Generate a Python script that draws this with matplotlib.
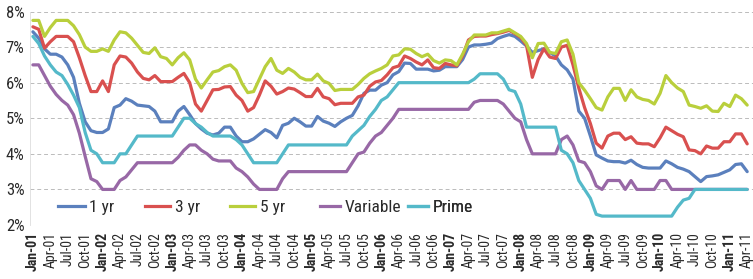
import matplotlib
matplotlib.use("Agg")
import matplotlib.pyplot as plt
from matplotlib.lines import Line2D

# ---- data (monthly, Jan-01 .. Apr-11) ----
yr1 = [
    7.43, 7.25, 6.95, 6.8, 6.8, 6.72, 6.5, 6.15, 5.42, 4.9,
    4.65, 4.6, 4.6, 4.7, 5.3, 5.37, 5.55, 5.48, 5.37, 5.35,
    5.33, 5.2, 4.9, 4.9, 4.9, 5.2, 5.33, 5.1, 4.85, 4.7,
    4.58, 4.53, 4.58, 4.75, 4.75, 4.5, 4.34, 4.34, 4.42, 4.55,
    4.68, 4.6, 4.45, 4.8, 4.86, 5.0, 4.9, 4.78, 4.78, 5.05,
    4.92, 4.86, 4.77, 4.9, 5.0, 5.08, 5.35, 5.7, 5.79, 5.79,
    5.93, 6.0, 6.22, 6.31, 6.55, 6.54, 6.38, 6.38, 6.38, 6.33,
    6.35, 6.45, 6.45, 6.45, 6.65, 7.0, 7.06, 7.06, 7.08, 7.11,
    7.24, 7.3, 7.35, 7.3, 7.17, 7.03, 6.85, 6.9, 6.95, 6.85,
    6.75, 6.5, 6.36, 6.1, 5.2, 5.0, 4.5, 3.97, 3.88, 3.8,
    3.78, 3.78, 3.74, 3.82, 3.7, 3.62, 3.6, 3.6, 3.6, 3.8,
    3.72, 3.62, 3.57, 3.5, 3.36, 3.22, 3.36, 3.38, 3.41, 3.48,
    3.55, 3.7, 3.72, 3.5]

yr3 = [
    7.57, 7.5, 6.97, 7.15, 7.3, 7.3, 7.3, 7.15, 6.7, 6.2,
    5.75, 5.75, 6.05, 5.75, 6.5, 6.75, 6.72, 6.55, 6.3, 6.12,
    6.08, 6.2, 6.03, 6.03, 6.03, 6.15, 6.26, 6.0, 5.4, 5.2,
    5.5, 5.8, 5.81, 5.88, 5.89, 5.65, 5.5, 5.2, 5.3, 5.65,
    6.05, 5.9, 5.68, 5.75, 5.85, 5.82, 5.72, 5.61, 5.61, 5.84,
    5.6, 5.55, 5.38, 5.42, 5.42, 5.42, 5.6, 5.65, 5.9, 6.02,
    6.06, 6.22, 6.42, 6.47, 6.75, 6.68, 6.58, 6.5, 6.64, 6.42,
    6.4, 6.54, 6.5, 6.47, 6.75, 7.2, 7.3, 7.31, 7.31, 7.35,
    7.38, 7.42, 7.47, 7.38, 7.27, 7.05, 6.15, 6.65, 6.95, 6.72,
    6.68, 7.0, 7.05, 6.5, 5.85, 5.3, 4.85, 4.3, 4.16, 4.5,
    4.58, 4.58, 4.4, 4.48, 4.3, 4.28, 4.28, 4.2, 4.45, 4.75,
    4.65, 4.55, 4.48, 4.11, 4.09, 4.0, 4.22, 4.16, 4.16, 4.34,
    4.34, 4.56, 4.56, 4.28]

yr5 = [
    7.75, 7.75, 7.3, 7.55, 7.75, 7.75, 7.75, 7.6, 7.35, 7.0,
    6.88, 6.88, 6.95, 6.88, 7.2, 7.43, 7.4, 7.25, 7.05, 6.85,
    6.82, 6.98, 6.73, 6.68, 6.5, 6.7, 6.84, 6.64, 6.1, 5.85,
    6.08, 6.3, 6.34, 6.45, 6.5, 6.35, 5.98, 5.72, 5.75, 6.1,
    6.45, 6.68, 6.35, 6.26, 6.4, 6.3, 6.15, 6.08, 6.08, 6.24,
    6.05, 5.98, 5.78, 5.81, 5.81, 5.81, 5.95, 6.12, 6.25, 6.33,
    6.4, 6.5, 6.75, 6.78, 6.95, 6.94, 6.82, 6.73, 6.8, 6.62,
    6.55, 6.64, 6.62, 6.5, 6.8, 7.15, 7.34, 7.34, 7.34, 7.4,
    7.4, 7.45, 7.5, 7.4, 7.3, 7.1, 6.7, 7.1, 7.11, 6.85,
    6.82, 7.15, 7.2, 6.8, 6.0, 5.79, 5.55, 5.3, 5.23, 5.6,
    5.84, 5.84, 5.5, 5.8, 5.6, 5.53, 5.5, 5.4, 5.7, 6.2,
    6.0, 5.85, 5.75, 5.37, 5.33, 5.28, 5.35, 5.2, 5.19, 5.42,
    5.33, 5.65, 5.55, 5.37]

variable = [
    6.5, 6.5, 6.2, 5.9, 5.67, 5.5, 5.37, 5.1, 4.58, 3.93,
    3.3, 3.22, 3.0, 3.0, 3.0, 3.25, 3.35, 3.55, 3.75, 3.75,
    3.75, 3.75, 3.75, 3.75, 3.75, 3.9, 4.1, 4.25, 4.25, 4.1,
    4.0, 3.85, 3.8, 3.8, 3.8, 3.6, 3.5, 3.35, 3.15, 3.0,
    3.0, 3.0, 3.0, 3.3, 3.5, 3.5, 3.5, 3.5, 3.5, 3.5,
    3.5, 3.5, 3.5, 3.5, 3.5, 3.75, 4.0, 4.05, 4.3, 4.5,
    4.6, 4.8, 5.0, 5.25, 5.25, 5.25, 5.25, 5.25, 5.25, 5.25,
    5.25, 5.25, 5.25, 5.25, 5.25, 5.25, 5.45, 5.5, 5.5, 5.5,
    5.5, 5.4, 5.2, 5.0, 4.9, 4.4, 4.0, 4.0, 4.0, 4.0,
    4.0, 4.4, 4.5, 4.25, 3.8, 3.75, 3.5, 3.1, 3.0, 3.25,
    3.25, 3.25, 3.0, 3.25, 3.0, 3.0, 3.0, 3.0, 3.25, 3.25,
    3.0, 3.0, 3.0, 3.0, 3.0, 3.0, 3.0, 3.0, 3.0, 3.0,
    3.0, 3.0, 3.0, 3.0]

prime = [
    7.3, 7.1, 6.75, 6.5, 6.3, 6.2, 5.95, 5.65, 5.3, 4.6,
    4.1, 4.0, 3.75, 3.75, 3.75, 4.0, 4.0, 4.25, 4.5, 4.5,
    4.5, 4.5, 4.5, 4.5, 4.5, 4.75, 5.0, 5.0, 4.85, 4.75,
    4.6, 4.5, 4.5, 4.5, 4.5, 4.4, 4.25, 4.0, 3.75, 3.75,
    3.75, 3.75, 3.75, 4.0, 4.25, 4.25, 4.25, 4.25, 4.25, 4.25,
    4.25, 4.25, 4.25, 4.25, 4.25, 4.5, 4.65, 4.8, 5.05, 5.25,
    5.5, 5.6, 5.8, 6.0, 6.0, 6.0, 6.0, 6.0, 6.0, 6.0,
    6.0, 6.0, 6.0, 6.0, 6.0, 6.0, 6.1, 6.25, 6.25, 6.25,
    6.25, 6.1, 5.8, 5.75, 5.4, 4.75, 4.75, 4.75, 4.75, 4.75,
    4.75, 4.1, 4.0, 3.75, 3.25, 3.0, 2.75, 2.3, 2.25, 2.25,
    2.25, 2.25, 2.25, 2.25, 2.25, 2.25, 2.25, 2.25, 2.25, 2.25,
    2.25, 2.5, 2.7, 2.75, 3.0, 3.0, 3.0, 3.0, 3.0, 3.0,
    3.0, 3.0, 3.0, 3.0]

series_names = ["1 yr", "3 yr", "5 yr", "Variable", "Prime"]
series_colors = ["#5b80bd", "#d9504f", "#b9cf3c", "#9868a6", "#54b9c9"]

month_names = ["Jan", "Apr", "Jul", "Oct"]
tick_labels = [f"{m}-{y:02d}" for y in range(1, 12) for m in month_names][:42]
y_ticks = [2, 3, 4, 5, 6, 7, 8]

FONT = ["Roboto Condensed", "Liberation Sans Narrow", "Roboto", "DejaVu Sans"]
plt.rcParams["font.family"] = FONT

W, H = 753, 279
fig = plt.figure(figsize=(W / 100, H / 100), dpi=100)
left_px, right_px, top_px, bot_px = 30, 753, 11.5, 225
ax = fig.add_axes([left_px / W, 1 - bot_px / H,
                   (right_px - left_px) / W, (bot_px - top_px) / H])

months = list(range(len(yr1)))
all_series = [yr1, yr3, yr5, variable, prime]
for vals, name, col in zip(all_series, series_names, series_colors):
    ax.plot(months, vals, color=col, lw=2.3, label=name,
            solid_joinstyle="round", solid_capstyle="round")

ax.set_ylim(2, 8)
ax.set_xlim(-0.5, 124.0)
ax.set_yticks(y_ticks)
ax.set_yticklabels([f"{v}%" for v in y_ticks], fontsize=12, color="#2a2a2a")
ax.set_xticks(list(range(0, 3 * len(tick_labels), 3)))
ax.set_xticklabels(tick_labels, rotation=90, fontsize=10, color="#2a2a2a")
for lbl in ax.get_xticklabels():
    if lbl.get_text().startswith("Jan"):
        lbl.set_fontweight("bold")
ax.tick_params(axis="x", length=0, pad=5)
ax.tick_params(axis="y", length=0, pad=4)
ax.grid(axis="y", color="#bbbbbb", lw=0.7, ls=(0, (4, 3)))
ax.set_axisbelow(True)
for s in ["top", "right", "bottom"]:
    ax.spines[s].set_visible(False)
ax.spines["left"].set_color("#dddddd")
ax.spines["left"].set_linewidth(0.6)

# one legend entry per series, placed like the reference
leg_x_px = [58, 145, 230, 320, 408]
leg_len = [1.55, 1.45, 1.45, 1.15, 1.15]
for name, col, xp, hl in zip(series_names, series_colors, leg_x_px, leg_len):
    h = Line2D([], [], color=col, lw=2.3)
    lg = ax.legend([h], [name], loc="center left",
                   bbox_to_anchor=((xp - left_px) / (right_px - left_px), 0.08),
                   frameon=False, fontsize=12.5, handlelength=hl,
                   handletextpad=0.25, borderpad=0, borderaxespad=0)
    for t in lg.get_texts():
        t.set_color("#2a2a2a")
    ax.add_artist(lg)

fig.savefig("out.png", dpi=100, facecolor="white")
